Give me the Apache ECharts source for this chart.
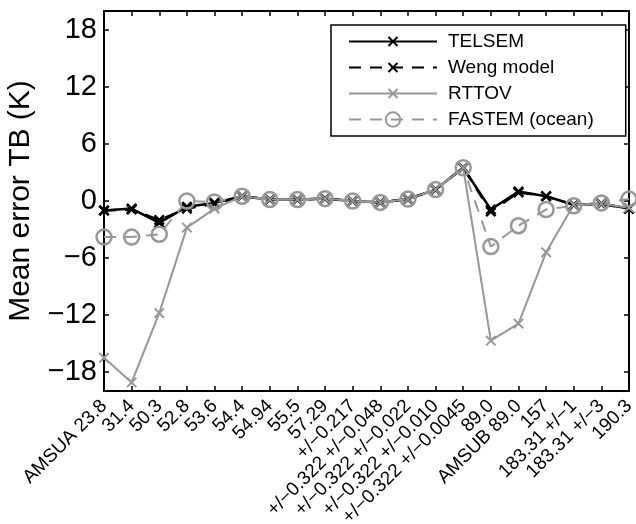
<!DOCTYPE html>
<html>
<head>
<meta charset="utf-8">
<script src="https://cdn.jsdelivr.net/npm/echarts@6/dist/echarts.min.js"></script>
<style>
html,body{margin:0;padding:0;background:#fff;}
#chart{width:636px;height:524px;}
</style>
</head>
<body>
<div id="chart"></div>
<script>
var categories = ['AMSUA 23.8','31.4','50.3','52.8','53.6','54.4','54.94','55.5','57.29','+/\u22120.217','+/\u22120.322 +/\u22120.048','+/\u22120.322 +/\u22120.022','+/\u22120.322 +/\u22120.010','+/\u22120.322 +/\u22120.0045','89.0','AMSUB 89.0','157','183.31 +/\u22121','183.31 +/\u22123','190.3'];
var telsem = [-1.0,-0.8,-2.3,-0.6,-0.2,0.5,0.15,0.15,0.25,0.0,-0.15,0.2,1.2,3.5,-0.9,1.0,0.5,-0.4,-0.3,-0.8];
var weng   = [-1.0,-0.9,-2.0,-0.8,-0.3,0.5,0.15,0.15,0.25,0.0,-0.15,0.2,1.2,3.5,-1.1,0.9,0.5,-0.4,-0.3,-0.8];
var rttov  = [-16.5,-19.1,-11.8,-2.8,-0.8,0.5,0.15,0.15,0.25,0.0,-0.15,0.2,1.2,3.5,-14.7,-12.9,-5.4,-0.4,-0.3,-0.7];
var fastem = [-3.8,-3.8,-3.5,0.0,-0.1,0.5,0.15,0.15,0.25,0.0,-0.15,0.2,1.2,3.5,-4.8,-2.6,-0.9,-0.5,-0.2,0.2];
var yTicks = [-18,-12,-6,0,6,12,18];
var seriesNames = ['TELSEM','Weng model','RTTOV','FASTEM (ocean)'];

var FONT = '"Liberation Sans", Arial, Helvetica, sans-serif';
var GREY = '#979797';
var CROSS = 'path://M-3 -3M13 13M0 0L10 10M10 0L0 10';

function minusFmt(v){ return String(v).replace('-', '\u2212'); }

var chart = echarts.init(document.getElementById('chart'), null, {renderer:'canvas'});
chart.setOption({
  animation:false,
  backgroundColor:'#fff',
  grid:{left:104, right:7, top:11, bottom:133, containLabel:false, outerBoundsMode:'none'},
  legend:{
    orient:'vertical', left:331, top:25,
    data:seriesNames,
    itemWidth:88, itemHeight:18, itemGap:7,
    padding:[7,32,7,17],
    borderColor:'#000', borderWidth:1.5, backgroundColor:'#fff',
    textStyle:{fontFamily:FONT, fontSize:19, color:'#000', lineHeight:18, padding:[0,0,0,6]},
    selectedMode:false
  },
  xAxis:[{
    type:'category', data:categories, boundaryGap:false, position:'bottom',
    axisLine:{onZero:false, lineStyle:{color:'#000', width:2}},
    axisTick:{inside:true, length:5, lineStyle:{color:'#000', width:1.5}, interval:0},
    axisLabel:{interval:0, rotate:45, margin:12, fontFamily:FONT, fontSize:19, color:'#000'},
    splitLine:{show:false}
  },{
    type:'category', data:categories, boundaryGap:false, position:'top',
    axisLine:{onZero:false, lineStyle:{color:'#000', width:2}},
    axisTick:{inside:true, length:5, lineStyle:{color:'#000', width:1.5}, interval:0},
    axisLabel:{show:false}, splitLine:{show:false}
  }],
  yAxis:[{
    type:'value', min:-20, max:20, position:'left',
    name:'Mean error TB (K)', nameLocation:'middle', nameGap:68,
    nameTextStyle:{fontFamily:FONT, fontSize:30, color:'#000'},
    axisLine:{show:true, onZero:false, lineStyle:{color:'#000', width:2}},
    axisTick:{show:true, inside:true, length:5, customValues:yTicks, lineStyle:{color:'#000', width:1.5}},
    axisLabel:{customValues:yTicks, formatter:minusFmt, margin:7, fontFamily:FONT, fontSize:29, color:'#000'},
    splitLine:{show:false}
  },{
    type:'value', min:-20, max:20, position:'right',
    axisLine:{show:true, onZero:false, lineStyle:{color:'#000', width:2}},
    axisTick:{show:true, inside:true, length:5, customValues:yTicks, lineStyle:{color:'#000', width:1.5}},
    axisLabel:{show:false}, splitLine:{show:false}
  }],
  series:[{
    name:seriesNames[0], type:'line', data:telsem,
    symbol:CROSS, symbolSize:15, showAllSymbol:true,
    lineStyle:{color:'#000', width:2.5},
    itemStyle:{color:'#000', borderColor:'#000', borderWidth:2.5}
  },{
    name:seriesNames[1], type:'line', data:weng,
    symbol:CROSS, symbolSize:15, showAllSymbol:true,
    lineStyle:{color:'#000', width:2.5, type:[12,9]},
    itemStyle:{color:'#000', borderColor:'#000', borderWidth:2.5}
  },{
    name:seriesNames[2], type:'line', data:rttov,
    symbol:CROSS, symbolSize:15, showAllSymbol:true,
    lineStyle:{color:GREY, width:2},
    itemStyle:{color:GREY, borderColor:GREY, borderWidth:2}
  },{
    name:seriesNames[3], type:'line', data:fastem,
    symbol:'circle', symbolSize:15, showAllSymbol:true,
    lineStyle:{color:GREY, width:2, type:[12,9]},
    itemStyle:{color:'rgba(0,0,0,0)', borderColor:GREY, borderWidth:2.5}
  }]
});
</script>
</body>
</html>
